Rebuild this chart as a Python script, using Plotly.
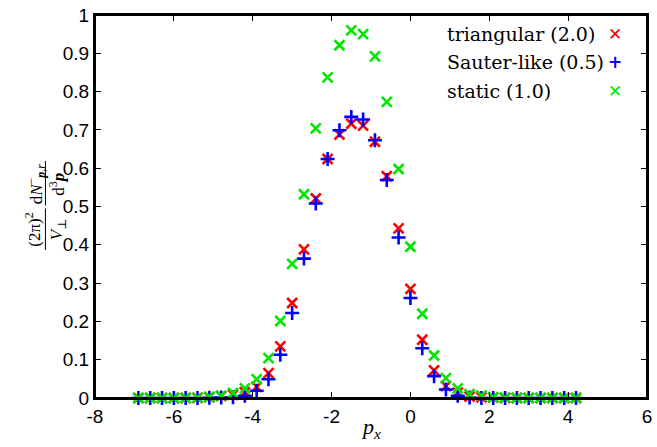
import plotly.graph_objects as go

px_vals = [-6.9, -6.6, -6.3, -6.0, -5.7, -5.4, -5.1, -4.8, -4.5, -4.2, -3.9, -3.6, -3.3,
           -3.0, -2.7, -2.4, -2.1, -1.8, -1.5, -1.2, -0.9, -0.6, -0.3, 0.0, 0.3, 0.6,
           0.9, 1.2, 1.5, 1.8, 2.1, 2.4, 2.7, 3.0, 3.3, 3.6, 3.9, 4.2]

triangular = [0, 0, 0, 0, 0, 0.0005, 0.002, 0.005, 0.008, 0.015, 0.029, 0.065, 0.135,
              0.248, 0.388, 0.521, 0.624, 0.688, 0.716, 0.711, 0.669, 0.579, 0.443, 0.285,
              0.152, 0.072, 0.031, 0.014, 0.004, 0.002, 0.001, 0, 0, 0, 0, 0, 0, 0]

sauter = [0, 0, 0, 0, 0, 0, 0.0005, 0.001, 0.002, 0.006, 0.019, 0.049, 0.113,
          0.222, 0.364, 0.508, 0.624, 0.699, 0.734, 0.727, 0.673, 0.569, 0.419, 0.261,
          0.130, 0.057, 0.022, 0.006, 0.001, 0, 0, 0, 0, 0, 0, 0, 0, 0]

static = [0, 0, 0, 0, 0.0005, 0.001, 0.003, 0.006, 0.013, 0.025, 0.049, 0.104, 0.201,
          0.350, 0.532, 0.704, 0.837, 0.921, 0.960, 0.950, 0.892, 0.773, 0.598, 0.395,
          0.220, 0.111, 0.052, 0.025, 0.010, 0.006, 0.002, 0.001, 0, 0, 0, 0, 0, 0]

series_names = ["triangular (2.0)", "Sauter-like (0.5)", "static (1.0)"]
series_colors = ["#ff0000", "#0000ff", "#00e600"]
series_symbols = ["x-thin", "cross-thin", "x-thin"]
legend_glyphs = ["✕", "+", "✕"]

x_tickvals = [-8, -6, -4, -2, 0, 2, 4, 6]
x_ticktext = ["-8", "-6", "-4", "-2", "0", "2", "4", "6"]
y_tickvals = [0, 0.1, 0.2, 0.3, 0.4, 0.5, 0.6, 0.7, 0.8, 0.9, 1.0]
y_ticktext = ["0", "0.1", "0.2", "0.3", "0.4", "0.5", "0.6", "0.7", "0.8", "0.9", "1"]

fig = go.Figure()
for name, ys, col, sym in zip(series_names, [triangular, sauter, static],
                              series_colors, series_symbols):
    fig.add_trace(go.Scatter(
        x=px_vals, y=ys, mode="markers", name=name,
        marker=dict(symbol=sym, size=10, color=col, line=dict(color=col, width=2.6)),
        showlegend=False, cliponaxis=False,
    ))

tick_font = dict(family="Liberation Sans, Arial, sans-serif", size=19, color="black")
serif = "Liberation Serif, DejaVu Serif, serif"
legend_serif = "DejaVu Serif, Liberation Serif, serif"

axis_common = dict(ticks="inside", ticklen=6, tickwidth=1.2, tickcolor="black",
                   showline=True, linecolor="black", linewidth=2, mirror="ticks",
                   showgrid=False, zeroline=False, tickfont=tick_font,
                   ticklabeloverflow="allow")

fig.update_layout(
    width=657, height=447,
    margin=dict(l=95, r=5, t=10, b=49),
    paper_bgcolor="white", plot_bgcolor="white",
    xaxis=dict(range=[-8, 6], tickvals=x_tickvals, ticktext=x_ticktext, **axis_common),
    yaxis=dict(range=[0, 1], tickvals=y_tickvals, ticktext=y_ticktext, **axis_common),
)

annotations = []
# legend
row_y = [(398 - 29) / 388, (398 - 58) / 388, (398 - 87) / 388]
for name, col, glyph, yy in zip(series_names, series_colors, legend_glyphs, row_y):
    annotations.append(dict(xref="paper", yref="paper", x=(448 - 95) / 557, y=yy,
                            xanchor="left", yanchor="middle", showarrow=False,
                            text=name, font=dict(family=legend_serif, size=19, color="black")))
    annotations.append(dict(xref="paper", yref="paper", x=(620 - 95) / 557, y=yy,
                            xanchor="center", yanchor="middle", showarrow=False,
                            text="<b>" + glyph + "</b>",
                            font=dict(family="DejaVu Sans, sans-serif", size=17, color=col)))

# x-axis title (centred under the plot area)
annotations.append(dict(xref="paper", yref="paper", x=0.5, y=(398 - 428) / 388,
                        xanchor="center", yanchor="middle", showarrow=False,
                        text="<i>p<sub>x</sub></i>",
                        font=dict(family=serif, size=22, color="black")))

# y-axis title as two rotated fractions, centred on the axis
bar_x = (45 - 95) / 557
annotations.append(dict(xref="paper", yref="paper", x=bar_x, y=(398 - 227) / 388,
                        xanchor="center", yanchor="middle", showarrow=False, textangle=-90,
                        text="(2π)<sup>2</sup><br><i>V</i><sub>⊥</sub>",
                        font=dict(family=serif, size=17, color="black")))
annotations.append(dict(xref="paper", yref="paper", x=bar_x, y=(398 - 181) / 388,
                        xanchor="center", yanchor="middle", showarrow=False, textangle=-90,
                        text="d<i>N</i><sup>−</sup><sub><b><i>p</i></b>,<i>r</i></sub><br>d<sup>3</sup><b><i>p</i></b>",
                        font=dict(family=serif, size=17, color="black")))
fig.update_layout(annotations=annotations)

fig.add_shape(type="line", xref="paper", yref="paper", x0=bar_x, x1=bar_x,
              y0=(398 - 206) / 388, y1=(398 - 248) / 388, line=dict(color="black", width=1))
fig.add_shape(type="line", xref="paper", yref="paper", x0=bar_x, x1=bar_x,
              y0=(398 - 158) / 388, y1=(398 - 203) / 388, line=dict(color="black", width=1))
# plot frame
fig.add_shape(type="rect", xref="paper", yref="paper", x0=0, x1=1, y0=0, y1=1,
              line=dict(color="black", width=2), layer="above")

fig.write_html("out.html")
